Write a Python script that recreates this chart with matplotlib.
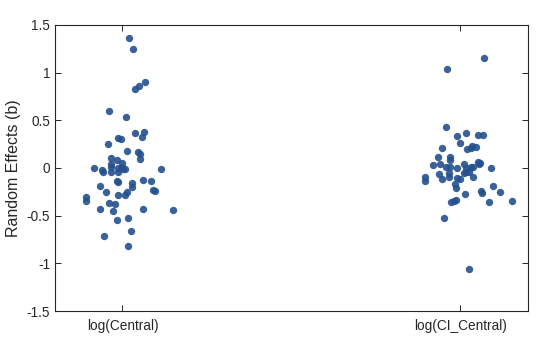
import matplotlib
matplotlib.use("Agg")
import matplotlib.pyplot as plt
import numpy as np

categories = ["log(Central)", "log(CI_Central)"]

# horizontal jitter (swarm offsets) and random-effect values
central_jitter = [0.020, 0.031, 0.067, 0.049, 0.037, -0.040, 0.011, 0.064, 0.037, 0.057,
                  -0.013, -0.004, -0.043, 0.014, 0.046, 0.053, 0.052, -0.033, -0.017, -0.002,
                  -0.034, -0.033, -0.084, -0.062, -0.058, -0.033, -0.013, -0.013, 0.000, 0.002,
                  0.007, 0.114, -0.017, -0.013, 0.028, 0.028, 0.061, 0.085, -0.067, -0.049,
                  -0.013, 0.008, 0.012, 0.091, 0.095, -0.109, -0.109, -0.040, -0.022, -0.066,
                  -0.028, 0.061, 0.150, -0.016, 0.017, 0.025, -0.054, 0.017]
central_values = [1.361, 1.246, 0.899, 0.857, 0.826, 0.598, 0.532, 0.378, 0.364, 0.325,
                  0.315, 0.301, 0.249, 0.173, 0.165, 0.149, 0.091, 0.107, 0.084, 0.052,
                  0.037, 0.014, 0.000, -0.021, -0.045, -0.039, -0.003, -0.039, 0.014, -0.014,
                  -0.014, -0.014, -0.136, -0.152, -0.161, -0.203, -0.129, -0.140, -0.189, -0.255,
                  -0.283, -0.283, -0.255, -0.231, -0.245, -0.304, -0.349, -0.370, -0.381, -0.433,
                  -0.454, -0.433, -0.444, -0.549, -0.528, -0.664, -0.717, -0.822]

ci_jitter = [0.069, -0.041, -0.044, 0.016, -0.009, 0.052, 0.066, -0.002, -0.055, 0.018,
             0.030, 0.034, 0.046, -0.067, -0.032, -0.032, 0.052, 0.059, 0.055, -0.082,
             -0.060, 0.011, -0.042, -0.030, -0.011, 0.017, 0.031, 0.036, 0.089, -0.106,
             -0.106, -0.064, -0.056, -0.033, -0.033, -0.010, -0.001, 0.010, 0.017, 0.024,
             0.036, -0.016, -0.013, 0.096, 0.060, 0.063, 0.116, 0.013, -0.027, -0.020,
             -0.013, 0.083, 0.152, -0.050, 0.025]
ci_values = [1.154, 1.036, 0.427, 0.367, 0.331, 0.346, 0.341, 0.264, 0.207, 0.196,
             0.205, 0.233, 0.217, 0.112, 0.112, 0.089, 0.068, 0.056, 0.044, 0.029,
             0.039, 0.039, 0.014, 0.007, -0.003, -0.003, 0.008, 0.010, -0.003, -0.094,
             -0.140, -0.066, -0.119, -0.049, -0.091, -0.105, -0.119, -0.055, -0.044, -0.037,
             -0.091, -0.171, -0.213, -0.184, -0.243, -0.260, -0.255, -0.276, -0.360, -0.346,
             -0.336, -0.360, -0.349, -0.528, -1.063]

y_ticks = [-1.5, -1, -0.5, 0, 0.5, 1, 1.5]

plt.rcParams["font.family"] = ["Liberation Sans", "DejaVu Sans"]
plt.rcParams["axes.unicode_minus"] = False

fig = plt.figure(figsize=(5.6, 3.37), dpi=100)
ax = fig.add_axes([0.098, 0.077, 0.845, 0.849])

dot_color = "#24508f"
groups = [(central_jitter, central_values), (ci_jitter, ci_values)]
for i, (jit, vals) in enumerate(groups, start=1):
    xs = i + np.array(jit)
    ax.scatter(xs, vals, s=28, color=dot_color, alpha=0.9, linewidths=0, zorder=3)

ax.set_xlim(0.8, 2.2)
ax.set_ylim(-1.5, 1.5)
ax.set_xticks([1, 2])
ax.set_xticklabels(categories)
ax.set_yticks(y_ticks)
ax.set_yticklabels([f"{t:g}" for t in y_ticks])
ax.set_ylabel("Random Effects (b)", fontsize=11.5, color="#262626", labelpad=4)

for sp in ax.spines.values():
    sp.set_color("#262626")
    sp.set_linewidth(0.8)
ax.tick_params(direction="in", length=4, width=0.7, colors="#262626", labelsize=9.8,
               top=True, right=True)
ax.tick_params(axis="x", pad=6)

fig.savefig("out.png", dpi=100)
